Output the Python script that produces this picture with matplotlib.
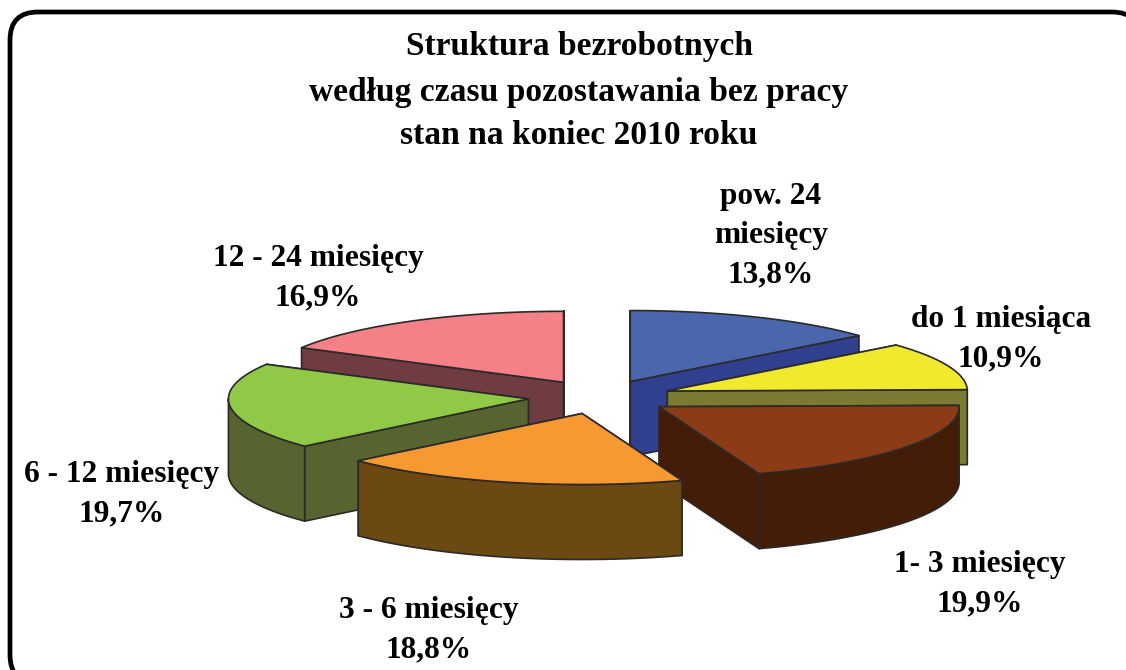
import numpy as np
import matplotlib
matplotlib.use('Agg')
import matplotlib.pyplot as plt
from matplotlib.patches import Polygon, FancyBboxPatch

plt.rcParams['font.family'] = ['Liberation Serif', 'DejaVu Serif']

# dane
categories = ['pow. 24\nmiesięcy', 'do 1 miesiąca', '1- 3 miesięcy',
              '3 - 6 miesięcy', '6 - 12 miesięcy', '12 - 24 miesięcy']
values = [13.8, 10.9, 19.9, 18.8, 19.7, 16.9]
value_labels = ['13,8%', '10,9%', '19,9%', '18,8%', '19,7%', '16,9%']
title_lines = ['Struktura bezrobotnych',
               'według czasu pozostawania bez pracy',
               'stan na koniec 2010 roku']

top_colors = ['#4a67ae', '#f0e92e', '#8b3b16', '#f89831', '#8fc946', '#f58085']
side_colors = ['#303f8e', '#7d7b31', '#431d07', '#6c4913', '#586430', '#6e3c41']
edge = '#2a2a2a'

# geometria (piksele)
cx, cy = 600, 397
rx, ry = 300, 71
depth = 75
explode = 72
draw_order = [5, 0, 1, 4, 2, 3]
title_y = [47, 92, 136]
label_xy = [(771, 236), (1001, 339), (980, 584), (429, 630), (122, 494), (318, 278)]


def pt(theta, r=1.0):
    return np.array([r * rx * np.sin(theta), -r * ry * np.cos(theta)])


def add_face(ax, pts, color, z):
    ax.add_patch(Polygon(pts, closed=True, facecolor=color, edgecolor=edge,
                         linewidth=1.2, joinstyle='round', zorder=z))


fig = plt.figure(figsize=(11.26, 6.7), dpi=100, facecolor='white')
ax = fig.add_axes([0, 0, 1, 1])
ax.set_xlim(0, 1126)
ax.set_ylim(670, 0)
ax.axis('off')

# ramka
ax.add_patch(FancyBboxPatch((38, 40), 1074, 615, boxstyle='round,pad=28,rounding_size=28',
                            facecolor='white', edgecolor='black', linewidth=3.4, zorder=1))

# wycinki
shares = np.array(values) / np.sum(values) * 2 * np.pi
ends = np.cumsum(shares)
starts = ends - shares
z = 2
for i in draw_order:
    a, b = starts[i], ends[i]
    mid = (a + b) / 2
    apex = np.array([cx, cy]) + pt(mid) * explode / rx
    down = np.array([0, depth])
    arc = np.array([apex + pt(t) for t in np.linspace(a, b, 80)])

    # sciany ciecia - najpierw ukryte, potem widoczne
    start_face = [apex, arc[0], arc[0] + down, apex + down]
    end_face = [apex, arc[-1], arc[-1] + down, apex + down]
    start_visible = np.sin(a) < 0
    end_visible = np.sin(b) > 0
    for face, vis in sorted([(start_face, start_visible), (end_face, end_visible)],
                            key=lambda f: f[1]):
        add_face(ax, face, side_colors[i], z)
        z += 1

    # sciana zewnetrzna, tylko przednia czesc luku
    lo, hi = max(a, np.pi / 2), min(b, 3 * np.pi / 2)
    if hi > lo:
        front = np.array([apex + pt(t) for t in np.linspace(lo, hi, 80)])
        add_face(ax, np.vstack([front, front[::-1] + down]), side_colors[i], z)
        z += 1

    add_face(ax, np.vstack([[apex], arc]), top_colors[i], z)
    z += 1

# teksty
for line, y in zip(title_lines, title_y):
    ax.text(579, y, line, ha='center', va='center', fontsize=24.1,
            fontweight='bold', color='black', zorder=z)
for cat, val, (x, y) in zip(categories, value_labels, label_xy):
    ax.text(x, y, cat + '\n' + val, ha='center', va='center', fontsize=22.6,
            fontweight='bold', color='black', linespacing=1.47, zorder=z)

fig.savefig('out.png', dpi=100, facecolor='white')
